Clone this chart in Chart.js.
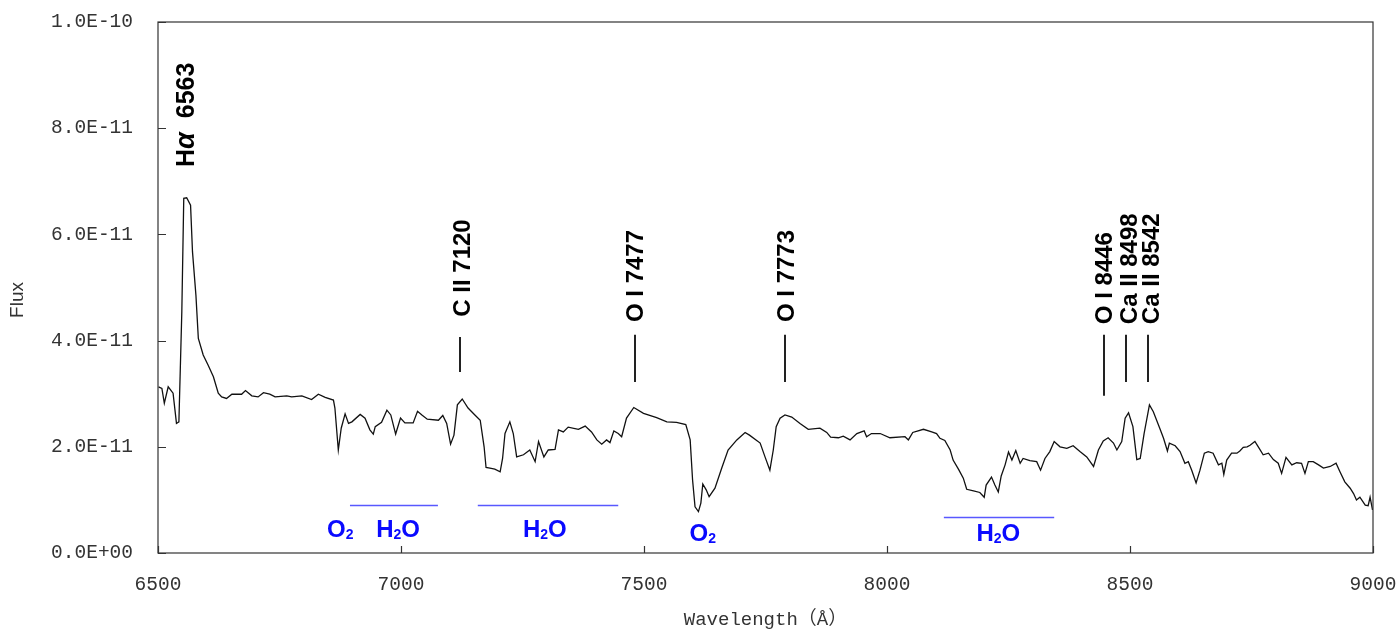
<!DOCTYPE html>
<html>
<head>
<meta charset="utf-8">
<script src="https://cdn.jsdelivr.net/npm/chart.js@4.4.1/dist/chart.umd.min.js"></script>
<style>
  html, body { margin: 0; padding: 0; background: #fff; }
  #wrap { width: 1399px; height: 631px; position: relative; }
</style>
</head>
<body>
<div id="wrap"><canvas id="spec"></canvas></div>
<script>
// spectrum, flux in units of 1e-11
const wavelength = [
  6501, 6508, 6513, 6521, 6531, 6538, 6543, 6549, 6553, 6559, 6567, 6571, 6578, 6583, 6593,
  6603, 6614, 6624, 6631, 6641, 6652, 6672, 6680, 6693, 6706, 6717, 6730, 6741, 6765, 6775,
  6796, 6816, 6830, 6844, 6861, 6864, 6871, 6877, 6885, 6892, 6899, 6916, 6926, 6936, 6943,
  6947, 6960, 6971, 6979, 6989, 6999, 7008, 7025, 7034, 7043, 7054, 7077, 7086, 7094, 7102,
  7109, 7116, 7126, 7138, 7152, 7163, 7171, 7175, 7183, 7193, 7204, 7209, 7214, 7224, 7231,
  7238, 7252, 7265, 7276, 7283, 7294, 7303, 7317, 7324, 7334, 7344, 7365, 7379, 7392, 7403,
  7413, 7423, 7430, 7438, 7447, 7454, 7464, 7479, 7499, 7526, 7547, 7567, 7586, 7595, 7600,
  7605, 7612, 7617, 7621, 7628, 7634, 7646, 7660, 7673, 7691, 7708, 7717, 7739, 7749, 7759,
  7766, 7772, 7780, 7790, 7804, 7821, 7838, 7862, 7876, 7884, 7900, 7910, 7924, 7938, 7953,
  7958, 7968, 7986, 8006, 8037, 8044, 8053, 8075, 8092, 8102, 8109, 8119, 8130, 8136, 8147,
  8157, 8164, 8178, 8191, 8200, 8204, 8215, 8222, 8229, 8235, 8243, 8250, 8257, 8265, 8274,
  8280, 8294, 8308, 8316, 8325, 8335, 8344, 8356, 8370, 8383, 8397, 8411, 8425, 8435, 8445,
  8455, 8466, 8473, 8483, 8490, 8497, 8506, 8514, 8521, 8529, 8540, 8548, 8562, 8569, 8577,
  8581, 8593, 8603, 8613, 8620, 8627, 8636, 8644, 8653, 8661, 8671, 8682, 8689, 8693, 8699,
  8709, 8720, 8726, 8733, 8741, 8747, 8757, 8764, 8774, 8785, 8795, 8805, 8812, 8821, 8833,
  8843, 8853, 8860, 8867, 8877, 8888, 8898, 8912, 8924, 8932, 8942, 8953, 8960, 8966, 8973,
  8984, 8990, 8994, 8999
];
const flux = [
  3.13, 3.10, 2.82, 3.13, 3.01, 2.44, 2.47, 4.54, 6.68, 6.69, 6.55, 5.67, 4.86, 4.04, 3.73,
  3.54, 3.32, 3.01, 2.94, 2.91, 2.99, 2.99, 3.06, 2.96, 2.94, 3.02, 2.99, 2.94, 2.96, 2.94,
  2.96, 2.89, 2.99, 2.93, 2.88, 2.73, 1.94, 2.35, 2.62, 2.44, 2.47, 2.61, 2.54, 2.32, 2.24,
  2.38, 2.46, 2.69, 2.60, 2.24, 2.54, 2.45, 2.45, 2.67, 2.60, 2.52, 2.50, 2.59, 2.44, 2.05,
  2.22, 2.79, 2.90, 2.73, 2.60, 2.50, 2.00, 1.61, 1.60, 1.58, 1.53, 1.78, 2.25, 2.47, 2.25,
  1.81, 1.85, 1.94, 1.72, 2.10, 1.81, 1.94, 1.95, 2.32, 2.28, 2.37, 2.33, 2.39, 2.28, 2.13,
  2.05, 2.13, 2.08, 2.30, 2.25, 2.19, 2.54, 2.74, 2.63, 2.55, 2.47, 2.46, 2.42, 2.13, 1.37,
  0.87, 0.78, 0.94, 1.30, 1.19, 1.06, 1.22, 1.60, 1.94, 2.13, 2.27, 2.22, 2.07, 1.81, 1.56,
  1.94, 2.38, 2.54, 2.60, 2.56, 2.44, 2.33, 2.35, 2.27, 2.18, 2.17, 2.20, 2.13, 2.25, 2.30,
  2.19, 2.25, 2.25, 2.17, 2.19, 2.13, 2.27, 2.33, 2.28, 2.25, 2.16, 2.12, 1.94, 1.75, 1.58,
  1.41, 1.20, 1.17, 1.14, 1.05, 1.28, 1.43, 1.28, 1.15, 1.45, 1.66, 1.90, 1.75, 1.93, 1.69,
  1.78, 1.74, 1.72, 1.56, 1.78, 1.91, 2.10, 2.00, 1.97, 2.02, 1.91, 1.81, 1.63, 1.94, 2.11,
  2.17, 2.07, 1.94, 2.10, 2.54, 2.64, 2.38, 1.76, 1.78, 2.25, 2.79, 2.66, 2.33, 2.16, 1.92,
  2.07, 2.02, 1.91, 1.69, 1.72, 1.56, 1.32, 1.56, 1.88, 1.91, 1.88, 1.66, 1.69, 1.48, 1.75,
  1.88, 1.88, 1.92, 1.99, 2.00, 2.03, 2.10, 2.00, 1.85, 1.88, 1.76, 1.69, 1.50, 1.80, 1.66,
  1.70, 1.69, 1.50, 1.72, 1.72, 1.66, 1.60, 1.63, 1.69, 1.53, 1.34, 1.22, 1.12, 1.00, 1.05,
  0.90, 0.89, 1.05, 0.81
];
const FLUX_UNIT = 1e-11;

const xTicks = [6500, 7000, 7500, 8000, 8500, 9000];
const yTicks = [0, 2, 4, 6, 8, 10];

// emission line ids
const lineIds = ['Hα 6563', 'C II 7120', 'O I 7477', 'O I 7773', 'O I 8446', 'Ca II 8498', 'Ca II 8542'];
// telluric bands
const bandNames = ['O2', 'H2O', 'H2O', 'O2', 'H2O'];
const bandRanges = [[6895, 7076], [7158, 7447], [8117, 8344]];

// where each id sits: x in Å, text base / marker ends in flux units
const lineLayout = [
  { x: 6556, base: 7.27 },
  { x: 7125, base: 4.45, mx: 7121, from: 4.07, to: 3.41 },
  { x: 7480, base: 4.35, mx: 7481, from: 4.11, to: 3.22 },
  { x: 7790, base: 4.35, mx: 7790, from: 4.11, to: 3.22 },
  { x: 8446, base: 4.31, mx: 8446, from: 4.11, to: 2.96 },
  { x: 8496, base: 4.31, mx: 8492, from: 4.11, to: 3.22 },
  { x: 8541, base: 4.31, mx: 8538, from: 4.11, to: 3.22 }
];
const bandLabelPos = [[6875, 0.47], [6994, 0.47], [7296, 0.47], [7621, 0.38], [8229, 0.39]];
const bandLineY = [0.90, 0.90, 0.68];

const BOLD = '"Liberation Sans", Arial, sans-serif';

function sciLabel(v) {
  return (v * FLUX_UNIT).toExponential(1).replace(/e([+-])(\d)$/, 'e$10$2').toUpperCase();
}

// draw a list of text runs left to right, centred on cx
function drawRuns(ctx, runs, cx, baseY) {
  let w = 0;
  runs.forEach(r => { ctx.font = r.font; r.w = ctx.measureText(r.t).width; w += r.w; });
  let x = cx - w / 2;
  runs.forEach(r => {
    ctx.font = r.font;
    ctx.fillText(r.t, x, baseY + (r.dy || 0));
    x += r.w;
  });
}

function chemRuns(name) {
  return name.split('').map(ch => /\d/.test(ch)
    ? { t: ch, font: 'bold 14px ' + BOLD, dy: 2 }
    : { t: ch, font: 'bold 24px ' + BOLD });
}

const annotate = {
  id: 'annotate',
  afterDatasetsDraw(chart) {
    const { ctx, chartArea: a, scales: { x, y } } = chart;
    ctx.save();

    // frame and inward ticks
    ctx.strokeStyle = '#333';
    ctx.lineWidth = 1.2;
    ctx.strokeRect(a.left, a.top, a.right - a.left, a.bottom - a.top);
    ctx.beginPath();
    xTicks.forEach(v => {
      const px = Math.round(x.getPixelForValue(v)) + 0.5;
      ctx.moveTo(px, a.bottom); ctx.lineTo(px, a.bottom - 7);
    });
    yTicks.forEach(v => {
      const py = Math.round(y.getPixelForValue(v)) + 0.5;
      ctx.moveTo(a.left, py); ctx.lineTo(a.left + 8, py);
    });
    ctx.stroke();

    // y title
    ctx.fillStyle = '#333';
    ctx.font = '19px "Liberation Sans", Arial, sans-serif';
    ctx.textAlign = 'center';
    ctx.textBaseline = 'middle';
    ctx.save();
    ctx.translate(18, 300);
    ctx.rotate(-Math.PI / 2);
    ctx.fillText('Flux', 0, 0);
    ctx.restore();

    // line ids, rotated, with marker ticks
    ctx.fillStyle = '#000';
    ctx.strokeStyle = '#222';
    ctx.lineWidth = 2;
    ctx.textAlign = 'left';
    ctx.textBaseline = 'alphabetic';
    lineIds.forEach((id, i) => {
      const L = lineLayout[i];
      const px = x.getPixelForValue(L.x);
      const py = y.getPixelForValue(L.base);
      ctx.save();
      ctx.translate(px, py);
      ctx.rotate(-Math.PI / 2);
      const cap = 8.6;
      if (id.startsWith('Hα')) {
        const parts = [
          { t: 'H', font: 'bold 25px ' + BOLD },
          { t: 'α', font: 'italic bold 27px ' + BOLD },
          { t: '  ' + id.split(' ')[1], font: 'bold 25px ' + BOLD }
        ];
        let tx = 0;
        parts.forEach(p => { ctx.font = p.font; ctx.fillText(p.t, tx, cap + 0.4); tx += ctx.measureText(p.t).width; });
      } else {
        ctx.font = 'bold 24px ' + BOLD;
        ctx.fillText(id, 0, cap);
      }
      ctx.restore();
      if (L.mx !== undefined) {
        const mx = Math.round(x.getPixelForValue(L.mx));
        ctx.beginPath();
        ctx.moveTo(mx, y.getPixelForValue(L.from));
        ctx.lineTo(mx, y.getPixelForValue(L.to));
        ctx.stroke();
      }
    });

    // telluric absorption bands
    ctx.strokeStyle = '#5858ff';
    ctx.lineWidth = 1.4;
    bandRanges.forEach((r, i) => {
      const py = Math.round(y.getPixelForValue(bandLineY[i])) + 0.5;
      ctx.beginPath();
      ctx.moveTo(x.getPixelForValue(r[0]), py);
      ctx.lineTo(x.getPixelForValue(r[1]), py);
      ctx.stroke();
    });
    ctx.fillStyle = '#0a0aff';
    ctx.textAlign = 'left';
    ctx.textBaseline = 'alphabetic';
    bandNames.forEach((name, i) => {
      const [bx, by] = bandLabelPos[i];
      drawRuns(ctx, chemRuns(name), x.getPixelForValue(bx), y.getPixelForValue(by) + 8.6);
    });

    ctx.restore();
  }
};

const tickFont = { family: '"Liberation Mono", "DejaVu Sans Mono", monospace', size: 19.5 };

new Chart(document.getElementById('spec'), {
  type: 'line',
  data: {
    datasets: [{
      data: wavelength.map((w, i) => ({ x: w, y: flux[i] })),
      borderColor: '#111',
      borderWidth: 1.3,
      pointRadius: 0,
      tension: 0,
      fill: false
    }]
  },
  options: {
    responsive: true,
    maintainAspectRatio: false,
    animation: false,
    devicePixelRatio: 1,
    layout: { padding: { top: 22, right: 26, bottom: 0, left: 0 } },
    plugins: { legend: { display: false }, tooltip: { enabled: false } },
    scales: {
      x: {
        type: 'linear',
        min: 6500,
        max: 9000,
        afterBuildTicks: s => { s.ticks = xTicks.map(v => ({ value: v })); },
        afterFit: s => { s.height = 78; s.paddingLeft = 0; s.paddingRight = 0; },
        grid: { display: false, drawTicks: false },
        border: { display: false },
        ticks: { padding: 20, color: '#333', font: tickFont, maxRotation: 0, callback: v => String(v) },
        title: {
          display: true,
          text: 'Wavelength（Å）',
          color: '#333',
          font: { family: '"Liberation Mono", "Noto Sans CJK JP", monospace', size: 19 },
          padding: { top: 0, bottom: 0 }
        }
      },
      y: {
        min: 0,
        max: 10,
        afterBuildTicks: s => { s.ticks = yTicks.map(v => ({ value: v })); },
        afterFit: s => { s.width = 158; s.paddingTop = 0; s.paddingBottom = 0; },
        grid: { display: false, drawTicks: false },
        border: { display: false },
        ticks: { padding: 25, color: '#333', font: tickFont, callback: v => sciLabel(v) }
      }
    }
  },
  plugins: [annotate]
});
</script>
</body>
</html>
